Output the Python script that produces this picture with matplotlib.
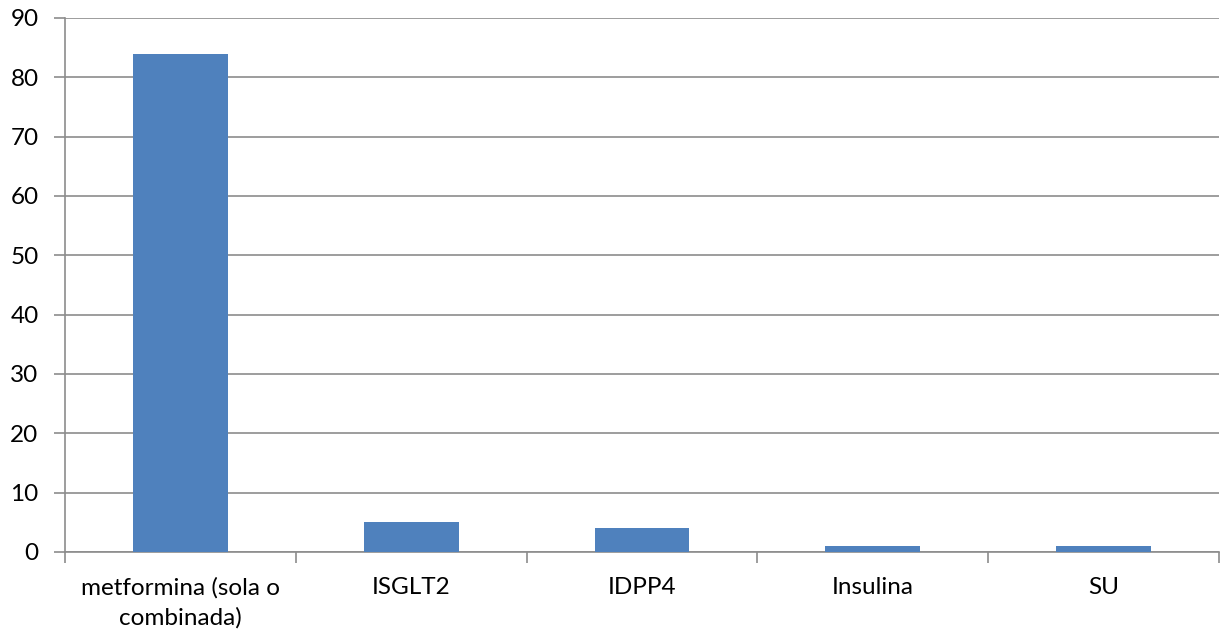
import matplotlib
matplotlib.use("Agg")
import matplotlib.pyplot as plt
import numpy as np

categories = ["metformina (sola o\ncombinada)", "ISGLT2", "IDPP4", "Insulina", "SU"]
values = [84, 5, 4, 1, 1]
yticks = [0, 10, 20, 30, 40, 50, 60, 70, 80, 90]

plt.rcParams["font.family"] = ["Lato", "DejaVu Sans"]

fig = plt.figure(figsize=(12.21, 6.31), dpi=100)
ax = fig.add_axes([65 / 1221, 1 - 552 / 631, (1219 - 65) / 1221, (552 - 18) / 631])

xs = np.arange(len(categories))
ax.bar(xs, values, width=0.41, color="#4F81BD", zorder=3)

ax.set_xlim(-0.5, len(categories) - 0.5)
ax.set_ylim(0, 90)
ax.set_yticks(yticks)
ax.set_yticklabels([str(t) for t in yticks], fontsize=17.5)
ax.yaxis.grid(True, color="#8c8c8c", linewidth=1.2, zorder=0)

# category ticks sit between the groups, labels in the middle
ax.set_xticks(np.arange(len(categories) + 1) - 0.5)
ax.set_xticklabels([])
ax.set_xticks(xs, minor=True)
ax.set_xticklabels(categories, minor=True, fontsize=17.5, linespacing=1.5)
ax.tick_params(axis="x", which="minor", length=0, pad=18)
ax.tick_params(axis="x", which="major", length=8, color="#8c8c8c", width=1.2)
ax.tick_params(axis="y", length=8, color="#8c8c8c", width=1.2, pad=11)

for s in ["top", "right"]:
    ax.spines[s].set_visible(False)
for s in ["left", "bottom"]:
    ax.spines[s].set_color("#8c8c8c")
    ax.spines[s].set_linewidth(1.2)

fig.savefig("out.png", dpi=100)
